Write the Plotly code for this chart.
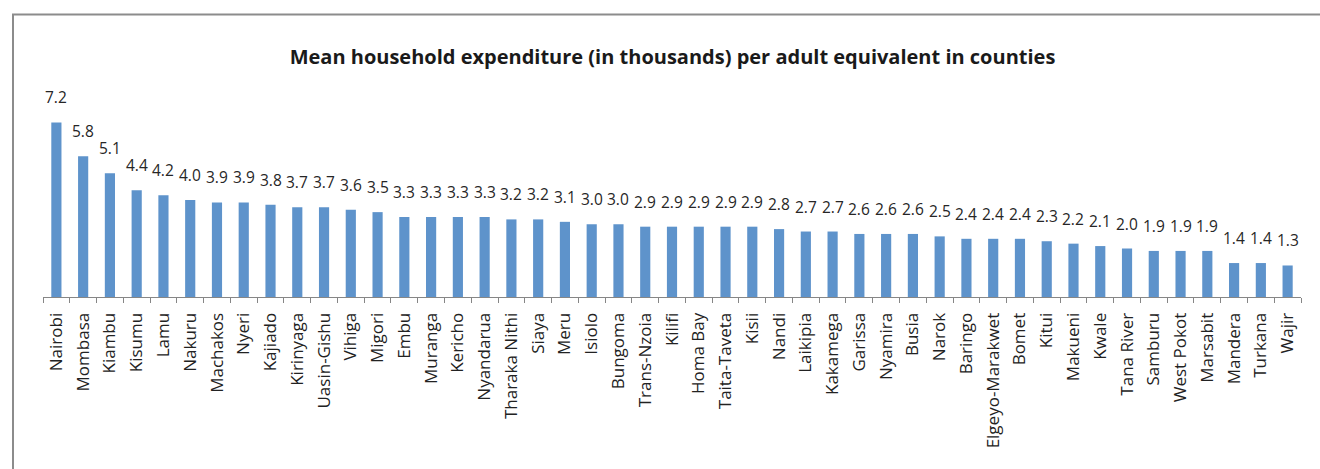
import plotly.graph_objects as go

# Counties, ordered from highest to lowest mean expenditure
counties = [
    "Nairobi", "Mombasa", "Kiambu", "Kisumu", "Lamu", "Nakuru", "Machakos",
    "Nyeri", "Kajiado", "Kirinyaga", "Uasin-Gishu", "Vihiga", "Migori", "Embu",
    "Muranga", "Kericho", "Nyandarua", "Tharaka Nithi", "Siaya", "Meru",
    "Isiolo", "Bungoma", "Trans-Nzoia", "Kilifi", "Homa Bay", "Taita-Taveta",
    "Kisii", "Nandi", "Laikipia", "Kakamega", "Garissa", "Nyamira", "Busia",
    "Narok", "Baringo", "Elgeyo-Marakwet", "Bomet", "Kitui", "Makueni",
    "Kwale", "Tana River", "Samburu", "West Pokot", "Marsabit", "Mandera",
    "Turkana", "Wajir",
]

# Mean household expenditure per adult equivalent (thousands)
expenditure = [
    7.2, 5.8, 5.1, 4.4, 4.2, 4.0, 3.9,
    3.9, 3.8, 3.7, 3.7, 3.6, 3.5, 3.3,
    3.3, 3.3, 3.3, 3.2, 3.2, 3.1,
    3.0, 3.0, 2.9, 2.9, 2.9, 2.9,
    2.9, 2.8, 2.7, 2.7, 2.6, 2.6, 2.6,
    2.5, 2.4, 2.4, 2.4, 2.3, 2.2,
    2.1, 2.0, 1.9, 1.9, 1.9, 1.4,
    1.4, 1.3,
]

title_text = "Mean household expenditure (in thousands) per adult equivalent in counties"

W, H = 1320, 469
ML, MR, MT, MB = 43, 19, 103, 172
Y_MAX = 8.0

FONT = "Open Sans"
BAR = "#5E93CB"
AXIS = "#868686"

fig = go.Figure()
fig.add_trace(go.Bar(
    x=counties,
    y=expenditure,
    marker=dict(color=BAR, line=dict(width=0)),
    hoverinfo="x+y",
))

# value labels above each bar
for name, val in zip(counties, expenditure):
    fig.add_annotation(
        x=name, y=val, xref="x", yref="y",
        text=f"{val:.1f}", showarrow=False,
        yanchor="bottom", xanchor="center", yshift=12,
        font=dict(family=FONT, size=15.5, color="#262626"),
    )

# chart frame (top and left edges visible in the window)
plot_h = H - MT - MB
plot_w = W - ML - MR
fx0 = (13 - ML) / plot_w
fy1 = (H - MB - 14.5) / plot_h
fig.add_shape(type="rect", xref="paper", yref="paper",
              x0=fx0, x1=1.2, y0=-1.5, y1=fy1,
              line=dict(color="#8C8C8C", width=2), layer="below")

fig.update_layout(
    width=W, height=H,
    margin=dict(l=ML, r=MR, t=MT, b=MB, autoexpand=False),
    paper_bgcolor="white", plot_bgcolor="white",
    bargap=0.62,
    showlegend=False,
    title=dict(
        text=f"<b>{title_text}</b>",
        x=672.5 / W, xanchor="center", xref="container",
        y=1 - 57 / H, yanchor="middle", yref="container",
        font=dict(family=FONT, size=20, color="#1a1a1a"),
    ),
    xaxis=dict(
        type="category",
        showline=True, linecolor=AXIS, linewidth=1,
        ticks="outside", tickson="boundaries", ticklen=5,
        tickcolor=AXIS, tickwidth=1,
        tickangle=-90,
        ticklabelstandoff=8,
        tickfont=dict(family=FONT, size=17, color="#222222"),
        showgrid=False, zeroline=False,
    ),
    yaxis=dict(
        range=[0, Y_MAX], visible=False,
        showgrid=False, zeroline=False,
    ),
)

fig.write_html("out.html")
